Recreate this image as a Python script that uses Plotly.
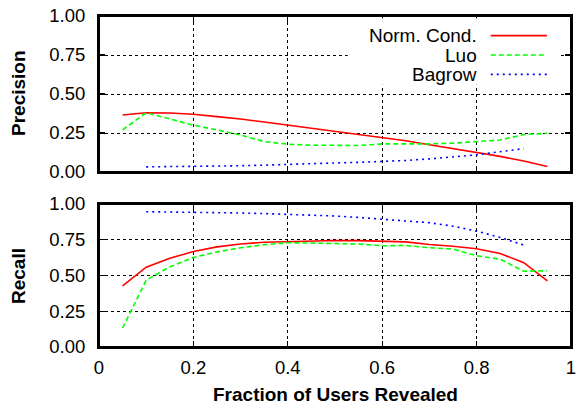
import plotly.graph_objects as go

# ---- data ----
x_full = [0.05, 0.10, 0.15, 0.20, 0.25, 0.30, 0.35, 0.40, 0.45, 0.50,
          0.55, 0.60, 0.65, 0.70, 0.75, 0.80, 0.85, 0.90, 0.95]
x_bagrow = [0.10, 0.15, 0.20, 0.25, 0.30, 0.35, 0.40, 0.45, 0.50,
            0.55, 0.60, 0.65, 0.70, 0.75, 0.80, 0.85, 0.90]

prec_norm = [0.365, 0.38, 0.378, 0.37, 0.355, 0.34, 0.32, 0.30, 0.28, 0.26,
             0.24, 0.22, 0.20, 0.175, 0.15, 0.125, 0.10, 0.07, 0.035]
prec_luo = [0.27, 0.38, 0.34, 0.30, 0.27, 0.237, 0.195, 0.178, 0.172, 0.17,
            0.17, 0.18, 0.18, 0.18, 0.185, 0.195, 0.205, 0.24, 0.248]
prec_bagrow = [0.033, 0.034, 0.035, 0.037, 0.04, 0.044, 0.05, 0.054, 0.058,
               0.062, 0.066, 0.074, 0.084, 0.096, 0.11, 0.13, 0.15]

rec_norm = [0.428, 0.558, 0.62, 0.668, 0.70, 0.72, 0.732, 0.738, 0.743, 0.745,
            0.744, 0.74, 0.735, 0.717, 0.705, 0.687, 0.654, 0.59, 0.463]
rec_luo = [0.133, 0.467, 0.56, 0.626, 0.665, 0.694, 0.715, 0.729, 0.727, 0.724,
           0.72, 0.708, 0.71, 0.694, 0.685, 0.638, 0.614, 0.53, 0.533]
rec_bagrow = [0.946, 0.945, 0.942, 0.94, 0.937, 0.933, 0.928, 0.922, 0.916,
              0.906, 0.895, 0.883, 0.869, 0.845, 0.81, 0.766, 0.713]

series_names = ["Norm. Cond.", "Luo", "Bagrow"]
x_tickvals = [0, 0.2, 0.4, 0.6, 0.8, 1.0]
x_ticktext = ["0", "0.2", "0.4", "0.6", "0.8", "1"]
y_tickvals = [0, 0.25, 0.5, 0.75, 1.0]
y_ticktext = ["0.00", "0.25", "0.50", "0.75", "1.00"]

colors = ["#ff0000", "#00ff00", "#0000ff"]
dashes = ["solid", "5px,3px", "2px,4px"]
FONT = "Liberation Sans, Arial, Helvetica, sans-serif"

fig = go.Figure()
prec = [(x_full, prec_norm), (x_full, prec_luo), (x_bagrow, prec_bagrow)]
rec = [(x_full, rec_norm), (x_full, rec_luo), (x_bagrow, rec_bagrow)]
for i, (xs, ys) in enumerate(prec):
    fig.add_trace(go.Scatter(x=xs, y=ys, mode="lines", name=series_names[i],
                             line=dict(color=colors[i], width=1.6, dash=dashes[i]),
                             xaxis="x", yaxis="y", showlegend=False))
for i, (xs, ys) in enumerate(rec):
    fig.add_trace(go.Scatter(x=xs, y=ys, mode="lines", name=series_names[i],
                             line=dict(color=colors[i], width=1.6, dash=dashes[i]),
                             xaxis="x2", yaxis="y2", showlegend=False))

W, H = 577, 405


def px_x(p):
    return p / W


def px_y(p):
    return 1 - p / H


xd = [px_x(99), px_x(571)]
yd_top = [px_y(172), px_y(16)]
yd_bot = [px_y(347), px_y(204)]

common_axis = dict(showline=True, linecolor="black", linewidth=2, mirror="ticks",
                   ticks="inside", ticklen=6, tickwidth=1.2, tickcolor="black",
                   showgrid=True, gridcolor="black", gridwidth=1, griddash="dot",
                   zeroline=False, automargin=False, ticklabeloverflow="allow",
                   tickfont=dict(family=FONT, size=18.5, color="black"))

fig.update_layout(
    width=W, height=H,
    margin=dict(l=0, r=0, t=0, b=0, autoexpand=False),
    paper_bgcolor="white", plot_bgcolor="white",
    showlegend=False,
    xaxis=dict(common_axis, domain=xd, range=[0, 1], anchor="y",
               tickvals=x_tickvals, ticktext=x_ticktext, showticklabels=False),
    yaxis=dict(common_axis, domain=yd_top, range=[0, 1], anchor="x",
               tickvals=y_tickvals, ticktext=y_ticktext, ticklabelstandoff=8),
    xaxis2=dict(common_axis, domain=xd, range=[0, 1], anchor="y2",
                tickvals=x_tickvals, ticktext=x_ticktext, ticklabelstandoff=3),
    yaxis2=dict(common_axis, domain=yd_bot, range=[0, 1], anchor="x2",
                tickvals=y_tickvals, ticktext=y_ticktext, ticklabelstandoff=8),
)

# key box (white, covers grid)
fig.add_shape(type="rect", xref="x domain", yref="y domain",
              x0=0.527, x1=0.975, y0=0.56, y1=0.985,
              fillcolor="white", line=dict(width=0), layer="above")
key_y = [0.874, 0.75, 0.626]
for i, name in enumerate(series_names):
    fig.add_annotation(text=name, xref="x domain", yref="y domain",
                       x=0.805, y=key_y[i], xanchor="right", yanchor="middle",
                       showarrow=False,
                       font=dict(family=FONT, size=19, color="black"))
    fig.add_shape(type="line", xref="x domain", yref="y domain",
                  x0=0.83, x1=0.949, y0=key_y[i], y1=key_y[i],
                  line=dict(color=colors[i], width=1.6, dash=dashes[i]),
                  layer="above")

# plot frames
for xr, yr in (("x domain", "y domain"), ("x2 domain", "y2 domain")):
    fig.add_shape(type="rect", xref=xr, yref=yr, x0=0, x1=1, y0=0, y1=1,
                  line=dict(color="black", width=2), fillcolor="rgba(0,0,0,0)",
                  layer="above")

# axis titles
fig.add_annotation(text="<b>Precision</b>", xref="paper", yref="paper",
                   x=px_x(18), y=px_y(93), textangle=-90, showarrow=False,
                   xanchor="center", yanchor="middle",
                   font=dict(family=FONT, size=19, color="black"))
fig.add_annotation(text="<b>Recall</b>", xref="paper", yref="paper",
                   x=px_x(18), y=px_y(276), textangle=-90, showarrow=False,
                   xanchor="center", yanchor="middle",
                   font=dict(family=FONT, size=19, color="black"))
fig.add_annotation(text="<b>Fraction of Users Revealed</b>", xref="paper", yref="paper",
                   x=px_x(335), y=px_y(394.5), showarrow=False, borderpad=0,
                   xanchor="center", yanchor="middle",
                   font=dict(family=FONT, size=19, color="black"))

fig.write_html(
    "out.html",
    config={"displayModeBar": False, "staticPlot": True},
    post_script="document.body.style.margin='0';document.body.style.padding='0';"
                "document.body.style.overflow='hidden';"
                "document.documentElement.style.overflow='hidden';",
)
